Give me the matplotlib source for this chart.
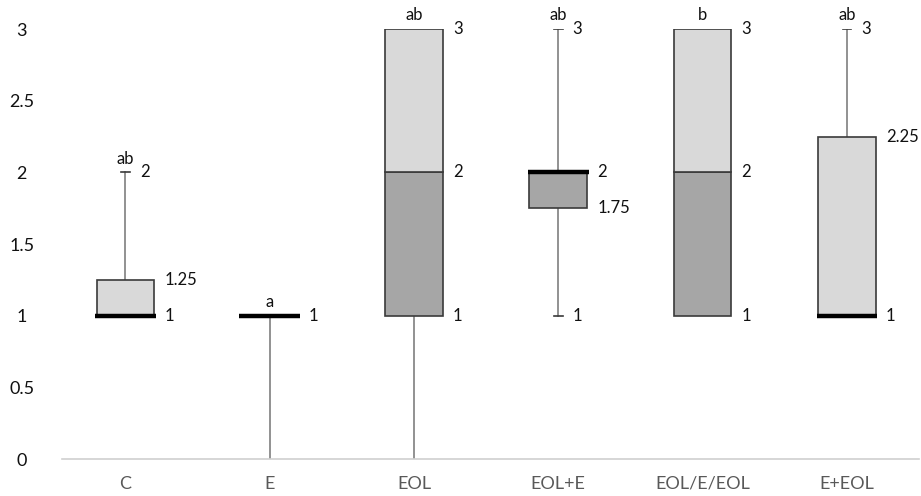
import matplotlib
matplotlib.use("Agg")
import matplotlib.pyplot as plt
from matplotlib.patches import Rectangle

plt.rcParams["font.family"] = ["Lato", "DejaVu Sans"]

# data
categories = ["C", "E", "EOL", "EOL+E", "EOL/E/EOL", "E+EOL"]
mins = [1, 0, 0, 1, 1, 1]
q1s = [1, 1, 1, 1.75, 1, 1]
medians = [1, 1, 2, 2, 2, 1]
q3s = [1.25, 1, 3, 2, 3, 2.25]
maxs = [2, 1, 3, 3, 3, 3]
letters = ["ab", "a", "ab", "ab", "b", "ab"]
yticks = [0, 0.5, 1, 1.5, 2, 2.5, 3]

dark = "#a6a6a6"
light = "#d9d9d9"
edge = "#3a3a3a"
whisker = "#7f7f7f"
half_w = 0.2
cap_w = 0.03

fig = plt.figure(figsize=(9.21, 4.96), dpi=100)
ax = fig.add_axes([62 / 921, 1 - 459 / 496, (919 - 62) / 921, (459 - 29) / 496])

for i, cat in enumerate(categories):
    mn, q1, md, q3, mx = mins[i], q1s[i], medians[i], q3s[i], maxs[i]

    # whiskers
    for lo, hi, tip in [(mn, q1, mn), (q3, mx, mx)]:
        if hi > lo:
            ax.plot([i, i], [lo, hi], color=whisker, lw=1.2, zorder=1)
            if tip > 0:
                ax.plot([i - cap_w, i + cap_w], [tip, tip], color=edge, lw=1.2, zorder=1)

    # lower box (q1 -> median) and upper box (median -> q3)
    if md > q1:
        ax.add_patch(Rectangle((i - half_w, q1), 2 * half_w, md - q1, facecolor=dark,
                               edgecolor=edge, lw=1.2, zorder=2))
    if q3 > md:
        ax.add_patch(Rectangle((i - half_w, md), 2 * half_w, q3 - md, facecolor=light,
                               edgecolor=edge, lw=1.2, zorder=2))

    # thick median line when it sits on a box edge
    if md == q1 or md == q3:
        ax.plot([i - half_w - 0.01, i + half_w + 0.01], [md, md], color="black", lw=3.2,
                solid_capstyle="butt", zorder=3)

    # value labels
    done = set()
    for v in [mx, q3, md, q1, mn]:
        if v == 0 or v in done:
            continue
        done.add(v)
        tip = (v == mx and mx > q3) or (v == mn and mn < q1)
        xo = 0.1 if tip else 0.27
        ax.text(i + xo, v, f"{v:g}", ha="left", va="center", fontsize=12, color="#111111")

    # significance letters
    ax.annotate(letters[i], (i, mx), xytext=(0, 4), textcoords="offset points",
                ha="center", va="bottom", fontsize=12, color="#111111", annotation_clip=False)

ax.set_xlim(-0.44, 5.5)
ax.set_ylim(0, 3)
ax.set_xticks(range(len(categories)))
ax.set_xticklabels(categories, fontsize=13, color="#595959")
ax.set_yticks(yticks)
ax.set_yticklabels([f"{t:g}" for t in yticks], fontsize=13, color="#111111", ha="center")
ax.tick_params(axis="y", length=0, pad=29)
ax.tick_params(axis="x", length=0, pad=12)
for s in ["top", "right", "left"]:
    ax.spines[s].set_visible(False)
ax.spines["bottom"].set_color("#d0d0d0")
ax.spines["bottom"].set_linewidth(1.2)

fig.savefig("out.png", dpi=100)
